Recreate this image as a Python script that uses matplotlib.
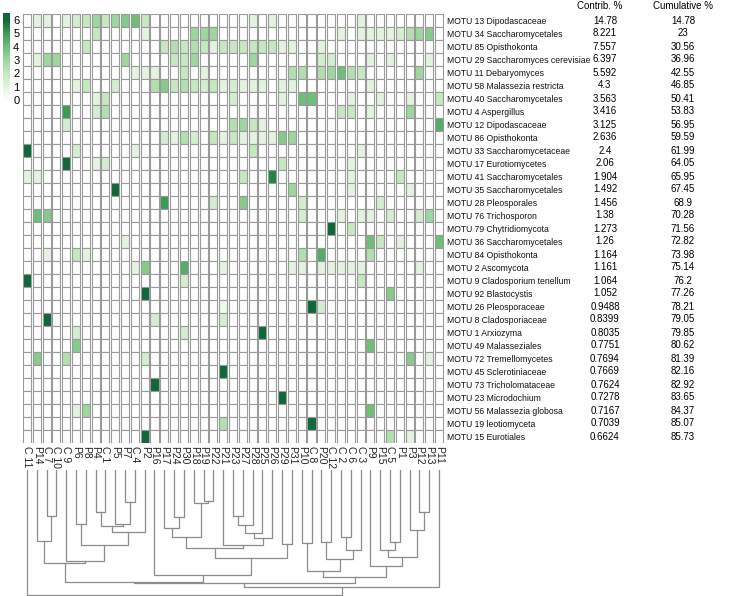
import numpy as np
import matplotlib
matplotlib.use("Agg")
import matplotlib.pyplot as plt
from matplotlib.colors import LinearSegmentedColormap, Normalize
from matplotlib.transforms import blended_transform_factory

plt.rcParams['font.family'] = ['Liberation Sans', 'DejaVu Sans']

# samples in dendrogram (column) order
samples = ["C 11", "P14", "C 7", "C 10", "C 9", "P6", "P8", "P4", "C 1", "P5", "P7", "C 4", "P2",
           "P16", "P17", "P24", "P30", "P18", "P19", "P22", "P21", "P23", "P27", "P28", "P25",
           "P26", "P29", "P31", "P10", "C 8", "P20", "C 12", "C 2", "C 6", "C 3", "P9", "P15",
           "C 5", "P1", "P3", "P12", "P13", "P11"]

motus = ["MOTU 13 Dipodascaceae", "MOTU 34 Saccharomycetales", "MOTU 85 Opisthokonta",
         "MOTU 29 Saccharomyces cerevisiae", "MOTU 11 Debaryomyces", "MOTU 58 Malassezia restricta",
         "MOTU 40 Saccharomycetales", "MOTU 4 Aspergillus", "MOTU 12 Dipodascaceae",
         "MOTU 86 Opisthokonta", "MOTU 33 Saccharomycetaceae", "MOTU 17 Eurotiomycetes",
         "MOTU 41 Saccharomycetales", "MOTU 35 Saccharomycetales", "MOTU 28 Pleosporales",
         "MOTU 76 Trichosporon", "MOTU 79 Chytridiomycota", "MOTU 36 Saccharomycetales",
         "MOTU 84 Opisthokonta", "MOTU 2 Ascomycota", "MOTU 9 Cladosporium tenellum",
         "MOTU 92 Blastocystis", "MOTU 26 Pleosporaceae", "MOTU 8 Cladosporiaceae",
         "MOTU 1 Arxiozyma", "MOTU 49 Malasseziales", "MOTU 72 Tremellomycetes",
         "MOTU 45 Sclerotiniaceae", "MOTU 73 Tricholomataceae", "MOTU 23 Microdochium",
         "MOTU 56 Malassezia globosa", "MOTU 19 leotiomyceta", "MOTU 15 Eurotiales"]

contrib = ["14.78", "8.221", "7.557", "6.397", "5.592", "4.3", "3.563", "3.416", "3.125", "2.636",
           "2.4", "2.06", "1.904", "1.492", "1.456", "1.38", "1.273", "1.26", "1.164", "1.161",
           "1.064", "1.052", "0.9488", "0.8399", "0.8035", "0.7751", "0.7694", "0.7669", "0.7624",
           "0.7278", "0.7167", "0.7039", "0.6624"]
cumulative = ["14.78", "23", "30.56", "36.96", "42.55", "46.85", "50.41", "53.83", "56.95", "59.59",
              "61.99", "64.05", "65.95", "67.45", "68.9", "70.28", "71.56", "72.82", "73.98", "75.14",
              "76.2", "77.26", "78.21", "79.05", "79.85", "80.62", "81.39", "82.16", "82.92", "83.65",
              "84.37", "85.07", "85.73"]

# abundance class per MOTU row: {column index: value}, empty cells are 0
cells = [
    {1: 1, 2: 1, 4: 1, 5: 1.5, 6: 2, 7: 3, 8: 2, 9: 3, 10: 3.5, 11: 4, 12: 2, 23: 1, 25: 1, 34: 1},
    {7: 2, 12: 1, 17: 3, 18: 3, 19: 3, 32: 1, 34: 1, 35: 1, 36: 1, 37: 1, 38: 1.5, 39: 2.5, 40: 3, 41: 3.5},
    {6: 2, 14: 2, 15: 2.5, 16: 2, 17: 2.5, 18: 2, 19: 1, 20: 2, 21: 2, 22: 2, 23: 2, 24: 2, 25: 2,
     26: 1, 27: 1, 30: 1},
    {1: 1, 2: 3, 3: 3, 10: 3, 15: 2, 16: 2, 17: 3, 23: 3, 30: 1.5, 31: 1.5, 35: 1, 37: 1, 41: 1},
    {11: 1, 12: 1, 13: 1, 16: 2, 18: 1, 27: 2.5, 28: 2.5, 30: 2.5, 31: 3, 32: 4, 33: 2.5, 34: 2, 40: 3},
    {5: 1, 6: 2, 9: 1.5, 13: 2.5, 14: 3.5, 15: 2, 16: 2.5, 17: 2, 18: 1.5, 19: 2, 20: 1, 21: 1.5,
     22: 1, 23: 1, 24: 1, 26: 1, 27: 1, 35: 1},
    {7: 1, 8: 2, 21: 1.5, 26: 1, 28: 4, 29: 4, 33: 1, 36: 1, 39: 1, 42: 2},
    {4: 5, 7: 1.5, 8: 2.5, 32: 2, 33: 2, 35: 1, 39: 3},
    {4: 1.5, 21: 2.5, 22: 3, 23: 2, 24: 1, 42: 4.5},
    {14: 1.5, 15: 1, 16: 2.5, 17: 1.5, 19: 2, 20: 1, 21: 2, 22: 1, 23: 1, 24: 1, 25: 1, 26: 3.5, 27: 3},
    {0: 6, 5: 1.5, 11: 1, 23: 2, 34: 1},
    {4: 6, 7: 1, 8: 1.5, 26: 2, 33: 1},
    {0: 1, 1: 1, 22: 2, 25: 5.5, 33: 1, 38: 2},
    {9: 6, 27: 3, 33: 1, 39: 1},
    {14: 5, 19: 1.5, 22: 3.5, 28: 1.5, 36: 1.5},
    {1: 4, 2: 3.5, 28: 1.5, 32: 1, 34: 1, 35: 1, 37: 1.5, 40: 1.5, 41: 3},
    {31: 6, 33: 2},
    {10: 1, 35: 4, 36: 2, 38: 1, 42: 4},
    {2: 1, 5: 2, 6: 1, 28: 2.5, 30: 4.5, 35: 2.5},
    {11: 1, 12: 3.5, 16: 4.5, 20: 1, 27: 1, 28: 1, 30: 1, 31: 1, 32: 1, 33: 1, 34: 1, 40: 1},
    {0: 6, 16: 1.5, 34: 2},
    {12: 6, 37: 3.5},
    {20: 0.5, 29: 6, 30: 1.5},
    {2: 6, 13: 1.5, 20: 1.5},
    {5: 1.5, 16: 1.5, 24: 6},
    {5: 3.5, 35: 4},
    {1: 3.5, 4: 2.5, 12: 1.5, 39: 3.5, 41: 1},
    {20: 6},
    {13: 6},
    {26: 6},
    {5: 1, 6: 3, 35: 4},
    {20: 2.5, 29: 6},
    {12: 6, 37: 2.5, 39: 1},
]

# sample clustering: (node, left, right, height)
tree = [
    ("a1", "C 7", "C 10", 137), ("a2", "P14", "a1", 214),
    ("a3", "P6", "P8", 162), ("a4", "P7", "C 4", 95), ("a5", "P5", "a4", 163),
    ("a6", "P4", "C 1", 127), ("a7", "a6", "a5", 168), ("a8", "a7", "P2", 185),
    ("a9", "a3", "a8", 226), ("a10", "C 9", "a9", 272), ("L", "a2", "a10", 280),
    ("b1", "P24", "P30", 140), ("b2", "P17", "b1", 175), ("b3", "P19", "P22", 92),
    ("b4", "P18", "b3", 100), ("b5", "b2", "b4", 200), ("b6", "P23", "P27", 138),
    ("b7", "b6", "P28", 165), ("b8", "b7", "P25", 188), ("b9", "b8", "P26", 205),
    ("b10", "P21", "b9", 225), ("b11", "b5", "b10", 235), ("b12", "P29", "P31", 222),
    ("b13", "b11", "b12", 265), ("M", "P16", "b13", 315), ("A", "L", "M", 335),
    ("c1", "P10", "C 8", 218), ("c2", "P20", "C 12", 215), ("c3", "C 2", "C 6", 200),
    ("c4", "c3", "C 3", 240), ("c5", "c2", "c4", 268), ("R1", "c1", "c5", 302),
    ("d1", "C 5", "P1", 215), ("d2", "P15", "d1", 240), ("d3", "P12", "P13", 125),
    ("d4", "P3", "d3", 180), ("d5", "d2", "d4", 262), ("R2", "P9", "d5", 288),
    ("B", "R1", "R2", 322), ("Y", "A", "B", 338), ("X", "Y", "P11", 352),
    ("root", "C 11", "X", 375),
]

values = np.zeros((len(motus), len(samples)))
for r, row in enumerate(cells):
    for c, v in row.items():
        values[r, c] = v

cmap = LinearSegmentedColormap.from_list(
    "wg", ["#ffffff", "#e3f3df", "#c6e8c1", "#9fd69f", "#6dbf7a", "#3b9c58", "#10683a"])
norm = Normalize(0, 6)

W, H = 745, 596
fig = plt.figure(figsize=(7.45, 5.96), dpi=100)

# heatmap
ax = fig.add_axes([22 / W, 1 - 443 / H, 422 / W, 429 / H])
xs = np.arange(len(samples))
for r in range(len(motus)):
    ax.bar(xs, 1, bottom=r - 0.5, width=0.82, color=cmap(norm(values[r])),
           edgecolor="#9a9a9a", linewidth=0.8)
ax.set_xlim(-0.5, len(samples) - 0.5)
ax.set_ylim(len(motus) - 0.5, -0.5)
for s in ax.spines.values():
    s.set_visible(False)
ax.set_xticks(xs)
ax.set_xticklabels(samples, rotation=270, fontsize=7.5, color="#222222")
ax.set_yticks(np.arange(len(motus)))
ax.set_yticklabels(motus, fontsize=6.2, color="#111111")
ax.yaxis.tick_right()
ax.tick_params(length=0, pad=2)

# contribution table
tr = blended_transform_factory(fig.transFigure, ax.transData)
for r in range(len(motus)):
    ax.text(605 / W, r, contrib[r], transform=tr, ha="center", va="center", fontsize=7)
    ax.text(683 / W, r, cumulative[r], transform=tr, ha="center", va="center", fontsize=7)
fig.text(600 / W, 1 - 6 / H, "Contrib. %", ha="center", va="center", fontsize=7)
fig.text(683 / W, 1 - 6 / H, "Cumulative %", ha="center", va="center", fontsize=7)

# dendrogram
dax = fig.add_axes([22 / W, 0, 422 / W, 126 / H])
pos = {name: (i, 0) for i, name in enumerate(samples)}
for node, left, right, h in tree:
    xl, hl = pos[left]
    xr, hr = pos[right]
    dax.plot([xl, xl, xr, xr], [hl, h, h, hr], color="#8c8c8c", lw=0.9)
    pos[node] = ((xl + xr) / 2, h)
dax.set_xlim(-0.5, len(samples) - 0.5)
dax.set_ylim(378, 0)
dax.axis("off")

# colour key
cax = fig.add_axes([3 / W, 1 - 107 / H, 6 / W, 94 / H])
grad = np.linspace(-0.5, 6.5, 200).reshape(-1, 1)
cax.imshow(grad, cmap=cmap, norm=norm, aspect="auto", origin="lower", extent=[0, 1, -0.5, 6.5])
cax.set_xticks([])
cax.yaxis.tick_right()
cax.set_yticks(range(7))
cax.tick_params(length=0, pad=3, labelsize=8)
for s in cax.spines.values():
    s.set_visible(False)

fig.savefig("out.png", dpi=100)
